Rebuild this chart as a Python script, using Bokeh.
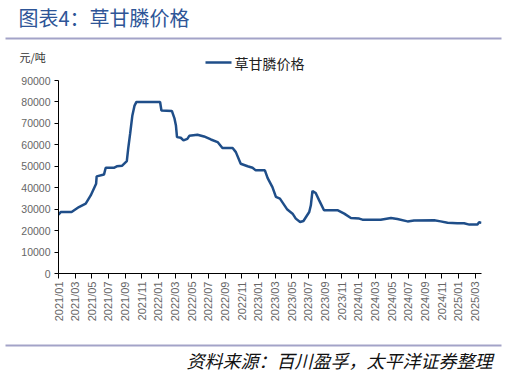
import math
from datetime import date
from bokeh.plotting import figure
from bokeh.layouts import column
from bokeh.models import Range1d, FixedTicker, ColumnDataSource
from bokeh.core.properties import value
from bokeh.embed import file_html
from bokeh.resources import INLINE

# ---- data ----
dates = [
    "2021-01-01", "2021-01-10", "2021-02-17", "2021-03-15", "2021-04-09", "2021-04-27",
    "2021-05-17", "2021-05-19", "2021-06-15", "2021-06-21", "2021-07-21", "2021-08-01",
    "2021-08-21", "2021-09-07", "2021-09-12", "2021-09-19", "2021-09-27", "2021-10-05",
    "2021-10-12", "2022-01-07", "2022-01-12", "2022-02-18", "2022-02-27", "2022-03-04",
    "2022-03-08", "2022-03-22", "2022-04-01", "2022-04-15", "2022-04-22", "2022-05-22",
    "2022-06-15", "2022-07-10", "2022-08-04", "2022-08-22", "2022-09-28", "2022-10-10",
    "2022-10-28", "2022-11-22", "2022-12-10", "2022-12-22", "2023-01-25", "2023-02-04",
    "2023-02-20", "2023-03-04", "2023-03-19", "2023-04-15", "2023-05-04", "2023-05-16",
    "2023-06-01", "2023-06-13", "2023-07-04", "2023-07-10", "2023-07-16", "2023-07-28",
    "2023-08-10", "2023-08-28", "2023-10-16", "2023-11-10", "2023-12-04", "2024-01-04",
    "2024-01-16", "2024-03-22", "2024-04-28", "2024-05-22", "2024-06-28", "2024-07-22",
    "2024-10-04", "2024-10-28", "2024-11-22", "2024-12-28", "2025-01-22", "2025-02-10",
    "2025-03-10", "2025-03-16", "2025-03-25",
]
prices = [
    27500, 28700, 28700, 31000, 32600, 36400,
    41900, 45300, 46200, 49300, 49300, 50000,
    50300, 52400, 58200, 65200, 73700, 78300,
    80000, 80000, 76000, 75800, 72200, 69000,
    63600, 63300, 62100, 62800, 64200, 64700,
    63900, 62500, 61300, 58500, 58500, 56600,
    51200, 50000, 49300, 48100, 48100, 44500,
    40300, 35700, 34900, 29800, 27900, 25600,
    24000, 24500, 28700, 31800, 38500, 37500,
    34100, 29500, 29500, 27900, 25900, 25600,
    25100, 25100, 25900, 25400, 24300, 24700,
    24800, 24300, 23700, 23400, 23400, 22800,
    22900, 23900, 23600,
]
tick_labels = [
    "2021/01", "2021/03", "2021/05", "2021/07", "2021/09", "2021/11",
    "2022/01", "2022/03", "2022/05", "2022/07", "2022/09", "2022/11",
    "2023/01", "2023/03", "2023/05", "2023/07", "2023/09", "2023/11",
    "2024/01", "2024/03", "2024/05", "2024/07", "2024/09", "2024/11",
    "2025/01", "2025/03",
]
y_ticks = [0, 10000, 20000, 30000, 40000, 50000, 60000, 70000, 80000, 90000]
series_name = "草甘膦价格"
title_text = "图表4：草甘膦价格"
unit_text = "元/吨"
source_text = "资料来源：百川盈孚，太平洋证券整理"
x_end_date = "2025-03-25"

LINE_COLOR = "#1F4E89"
SEP_COLOR = "#A3A3C8"
GRAY = "#666666"
CJK = value("Noto Sans CJK SC")
W = 507


def month_index(s):
    parts = [int(v) for v in s.replace("/", "-").split("-")]
    y, m = parts[0], parts[1]
    d = parts[2] if len(parts) > 2 else 1
    start = date(y, m, 1)
    nxt = date(y + (m == 12), m % 12 + 1, 1)
    return (y - 2021) * 12 + (m - 1) + (d - 1) / (nxt - start).days


def blank(h):
    f = figure(width=W, height=h, output_backend="svg", toolbar_location=None,
               x_range=Range1d(0, W), y_range=Range1d(h, 0),
               min_border=0, min_border_left=0, min_border_right=0,
               min_border_top=0, min_border_bottom=0)
    f.frame_align = False
    f.axis.visible = False
    f.grid.visible = False
    f.outline_line_color = None
    f.background_fill_color = "white"
    f.border_fill_color = "white"
    return f


# ---- header ----
HEAD_H = 75
head = blank(HEAD_H)
head.text(x=[18], y=[17], text=[title_text], text_font=CJK, text_font_size="20px",
          text_color="#2E5597", text_align="left", text_baseline="middle")
head.segment(x0=[5], y0=[38], x1=[501], y1=[38], line_color=SEP_COLOR, line_width=2)
head.text(x=[19], y=[56], text=[unit_text], text_font=CJK, text_font_size="11px",
          text_color="#333333", text_align="left", text_baseline="middle")
head.segment(x0=[205], y0=[62], x1=[231], y1=[62], line_color=LINE_COLOR, line_width=2.5)
head.text(x=[234], y=[62], text=[series_name], text_font=CJK, text_font_size="14px",
          text_color="#222222", text_align="left", text_baseline="middle")

# ---- main chart ----
xs = [month_index(d) for d in dates]
tick_pos = [month_index(t) for t in tick_labels]
src = ColumnDataSource(dict(x=xs, y=prices))

MAIN_H = 265
p = figure(width=W, height=MAIN_H, output_backend="svg", toolbar_location=None,
           x_range=Range1d(0, month_index(x_end_date)), y_range=Range1d(0, 90000),
           min_border_left=58, min_border_right=26, min_border_top=5, min_border_bottom=67)
p.frame_align = False
p.outline_line_color = None
p.background_fill_color = "white"
p.border_fill_color = "white"
p.xgrid.visible = False
p.ygrid.visible = False

p.line("x", "y", source=src, line_color=LINE_COLOR, line_width=2.5)

p.yaxis.ticker = FixedTicker(ticks=y_ticks)
p.yaxis.axis_line_color = "black"
p.yaxis.major_tick_line_color = "black"
p.yaxis.major_tick_out = 4
p.yaxis.major_tick_in = 0
p.yaxis.minor_tick_line_color = None
p.yaxis.major_label_text_font = "Liberation Sans"
p.yaxis.major_label_text_font_size = "10.5px"
p.yaxis.major_label_text_color = GRAY
p.yaxis.major_label_standoff = 4

p.xaxis.ticker = FixedTicker(ticks=tick_pos)
p.xaxis.major_label_overrides = {tp: lab for tp, lab in zip(tick_pos, tick_labels)}
p.xaxis.major_label_orientation = math.pi / 2
p.xaxis.axis_line_color = "black"
p.xaxis.major_tick_line_color = "black"
p.xaxis.major_tick_out = 5
p.xaxis.major_tick_in = 0
p.xaxis.minor_tick_line_color = None
p.xaxis.major_label_text_font = "Liberation Sans"
p.xaxis.major_label_text_font_size = "11px"
p.xaxis.major_label_text_color = GRAY
p.xaxis.major_label_standoff = 3

# ---- footer ----
FOOT_H = 31
foot = blank(FOOT_H)
foot.segment(x0=[5], y0=[5], x1=[501], y1=[5], line_color=SEP_COLOR, line_width=2)
foot.text(x=[492], y=[19], text=[source_text], text_font=CJK, text_font_size="18px",
          text_font_style="italic", text_color="#111111",
          text_align="right", text_baseline="middle")

layout = column(head, p, foot, spacing=0)
open("out.html", "w").write(file_html(layout, INLINE))
